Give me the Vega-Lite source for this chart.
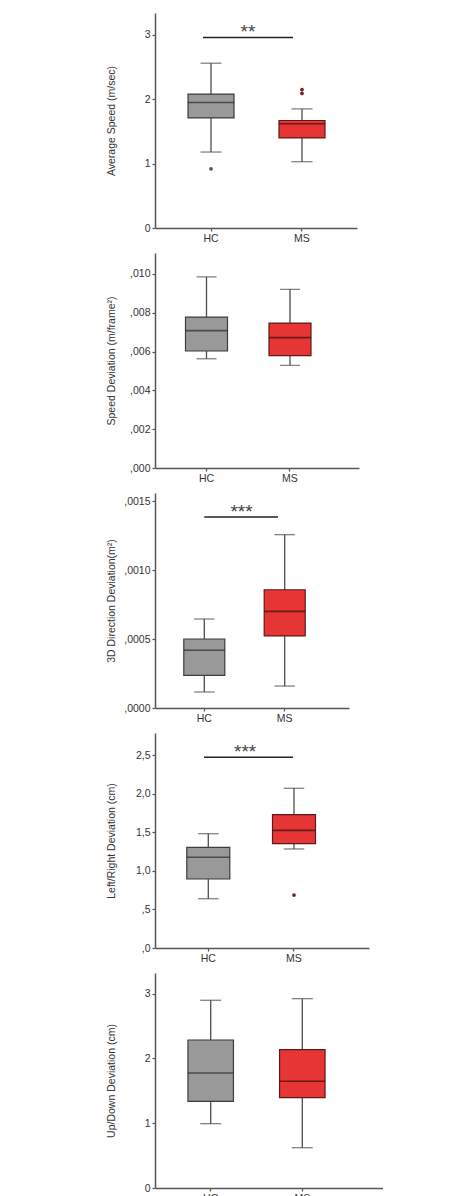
{
  "$schema": "https://vega.github.io/schema/vega-lite/v6.json",
  "padding": {"top": 13, "left": 106, "right": 0, "bottom": 0},
  "spacing": 9,
  "config": {
    "view": {"stroke": null},
    "font": "Liberation Sans",
    "axis": {
      "domainColor": "#555555", "domainWidth": 1.5, "tickColor": "#555555", "tickWidth": 1.2, "tickSize": 3,
      "labelFont": "Liberation Sans", "labelFontSize": 10.5, "labelColor": "#333333", "labelPadding": 2,
      "titleFont": "Liberation Sans", "titleFontSize": 10.5, "titleFontWeight": "normal", "titleColor": "#333333",
      "grid": false
    }
  },
  "vconcat": [
    {
      "width": 202, "height": 215,
      "data": {"values": [
        {"group": "HC", "lower": 1.18, "q1": 1.71, "median": 1.95, "q3": 2.08, "upper": 2.56},
        {"group": "MS", "lower": 1.03, "q1": 1.40, "median": 1.62, "q3": 1.67, "upper": 1.85}
      ]},
      "encoding": {"x": {"field": "group", "type": "nominal", "scale": {"type": "band", "paddingInner": 0, "paddingOuter": 0.11, "align": 0.525}, "axis": {"title": null, "labelAngle": 0}}},
      "layer": [
        {"mark": {"type": "rule", "color": "#4d4d4d", "strokeWidth": 1.3},
         "encoding": {"y": {"field": "lower", "type": "quantitative", "scale": {"domain": [0, 3.34], "nice": false}, "axis": {"title": "Average Speed (m/sec)", "values": [0, 1, 2, 3], "format": "d", "titleX": -44, "titleBaseline": "middle"}}, "y2": {"field": "upper"}}},
        {"mark": {"type": "tick", "color": "#4d4d4d", "size": 21, "thickness": 1.3}, "encoding": {"y": {"field": "upper", "type": "quantitative"}}},
        {"mark": {"type": "tick", "color": "#4d4d4d", "size": 21, "thickness": 1.3}, "encoding": {"y": {"field": "lower", "type": "quantitative"}}},
        {"mark": {"type": "bar", "size": 46, "strokeWidth": 1.2},
         "encoding": {"y": {"field": "q1", "type": "quantitative"}, "y2": {"field": "q3"},
           "fill": {"condition": {"test": "datum.group === 'HC'", "value": "#999999"}, "value": "#e53535"},
           "stroke": {"condition": {"test": "datum.group === 'HC'", "value": "#3d3d3d"}, "value": "#5c1a1a"}}},
        {"mark": {"type": "tick", "size": 46, "thickness": 1.6},
         "encoding": {"y": {"field": "median", "type": "quantitative"}, "color": {"condition": {"test": "datum.group === 'HC'", "value": "#2a2a2a"}, "value": "#3d0f0f"}}},
        {"data": {"values": [{"group": "HC", "value": 0.92}, {"group": "MS", "value": 2.15}, {"group": "MS", "value": 2.09}]},
         "mark": {"type": "point", "filled": true, "size": 14, "opacity": 1},
         "encoding": {"y": {"field": "value", "type": "quantitative"}, "color": {"condition": {"test": "datum.group === 'HC'", "value": "#555555"}, "value": "#7b1f2a"}}},
        {"data": {"values": [{"from": "HC", "to": "MS", "y": 2.96, "label": "**"}]},
         "layer": [
           {"mark": {"type": "rule", "color": "#222222", "strokeWidth": 1.5, "xOffset": -8, "x2Offset": -9},
            "encoding": {"x": {"field": "from", "type": "nominal"}, "x2": {"field": "to"}, "y": {"field": "y", "type": "quantitative"}}},
           {"mark": {"type": "text", "fontSize": 19, "color": "#444444", "baseline": "alphabetic", "dx": -8.5, "dy": 1},
            "encoding": {"x": {"field": "from", "type": "nominal", "bandPosition": 1}, "y": {"field": "y", "type": "quantitative"}, "text": {"field": "label"}}}
         ]}
      ]
    },
    {
      "width": 204, "height": 215,
      "data": {"values": [
        {"group": "HC", "lower": 0.00563, "q1": 0.00603, "median": 0.00708, "q3": 0.00778, "upper": 0.00985},
        {"group": "MS", "lower": 0.00529, "q1": 0.00579, "median": 0.00672, "q3": 0.00747, "upper": 0.00921}
      ]},
      "encoding": {"x": {"field": "group", "type": "nominal", "scale": {"type": "band", "paddingInner": 0, "paddingOuter": 0.2216, "align": 0.2635}, "axis": {"title": null, "labelAngle": 0}}},
      "layer": [
        {"mark": {"type": "rule", "color": "#4d4d4d", "strokeWidth": 1.3},
         "encoding": {"y": {"field": "lower", "type": "quantitative", "scale": {"domain": [0, 0.01108], "nice": false}, "axis": {"title": "Speed Deviation (m/frame²)", "values": [0, 0.002, 0.004, 0.006, 0.008, 0.01], "labelExpr": "',' + split(format(datum.value, '.3f'), '.')[1]", "titleX": -44, "titleBaseline": "middle"}}, "y2": {"field": "upper"}}},
        {"mark": {"type": "tick", "color": "#4d4d4d", "size": 20, "thickness": 1.3}, "encoding": {"y": {"field": "upper", "type": "quantitative"}}},
        {"mark": {"type": "tick", "color": "#4d4d4d", "size": 20, "thickness": 1.3}, "encoding": {"y": {"field": "lower", "type": "quantitative"}}},
        {"mark": {"type": "bar", "size": 42, "strokeWidth": 1.2},
         "encoding": {"y": {"field": "q1", "type": "quantitative"}, "y2": {"field": "q3"},
           "fill": {"condition": {"test": "datum.group === 'HC'", "value": "#999999"}, "value": "#e53535"},
           "stroke": {"condition": {"test": "datum.group === 'HC'", "value": "#3d3d3d"}, "value": "#5c1a1a"}}},
        {"mark": {"type": "tick", "size": 42, "thickness": 1.6},
         "encoding": {"y": {"field": "median", "type": "quantitative"}, "color": {"condition": {"test": "datum.group === 'HC'", "value": "#2a2a2a"}, "value": "#3d0f0f"}}}
      ]
    },
    {
      "width": 194, "height": 215,
      "data": {"values": [
        {"group": "HC", "lower": 0.000116, "q1": 0.000237, "median": 0.000418, "q3": 0.0005, "upper": 0.000645},
        {"group": "MS", "lower": 0.000159, "q1": 0.000522, "median": 0.0007, "q3": 0.000857, "upper": 0.001256}
      ]},
      "encoding": {"x": {"field": "group", "type": "nominal", "scale": {"type": "band", "paddingInner": 0, "paddingOuter": 0.2065, "align": 0.274}, "axis": {"title": null, "labelAngle": 0}}},
      "layer": [
        {"mark": {"type": "rule", "color": "#4d4d4d", "strokeWidth": 1.3},
         "encoding": {"y": {"field": "lower", "type": "quantitative", "scale": {"domain": [0, 0.001558], "nice": false}, "axis": {"title": "3D Direction Deviation(m²)", "values": [0, 0.0005, 0.001, 0.0015], "labelExpr": "',' + split(format(datum.value, '.4f'), '.')[1]", "titleX": -44, "titleBaseline": "middle"}}, "y2": {"field": "upper"}}},
        {"mark": {"type": "tick", "color": "#4d4d4d", "size": 20.5, "thickness": 1.3}, "encoding": {"y": {"field": "upper", "type": "quantitative"}}},
        {"mark": {"type": "tick", "color": "#4d4d4d", "size": 20.5, "thickness": 1.3}, "encoding": {"y": {"field": "lower", "type": "quantitative"}}},
        {"mark": {"type": "bar", "size": 41, "strokeWidth": 1.2},
         "encoding": {"y": {"field": "q1", "type": "quantitative"}, "y2": {"field": "q3"},
           "fill": {"condition": {"test": "datum.group === 'HC'", "value": "#999999"}, "value": "#e53535"},
           "stroke": {"condition": {"test": "datum.group === 'HC'", "value": "#3d3d3d"}, "value": "#5c1a1a"}}},
        {"mark": {"type": "tick", "size": 41, "thickness": 1.6},
         "encoding": {"y": {"field": "median", "type": "quantitative"}, "color": {"condition": {"test": "datum.group === 'HC'", "value": "#2a2a2a"}, "value": "#3d0f0f"}}},
        {"data": {"values": [{"from": "HC", "to": "MS", "y": 0.001384, "label": "***"}]},
         "layer": [
           {"mark": {"type": "rule", "color": "#222222", "strokeWidth": 1.5, "xOffset": 0, "x2Offset": -6.7},
            "encoding": {"x": {"field": "from", "type": "nominal"}, "x2": {"field": "to"}, "y": {"field": "y", "type": "quantitative"}}},
           {"mark": {"type": "text", "fontSize": 19, "color": "#444444", "baseline": "alphabetic", "dx": -3, "dy": 1},
            "encoding": {"x": {"field": "from", "type": "nominal", "bandPosition": 1}, "y": {"field": "y", "type": "quantitative"}, "text": {"field": "label"}}}
         ]}
      ]
    },
    {
      "width": 214, "height": 215,
      "data": {"values": [
        {"group": "HC", "lower": 0.64, "q1": 0.896, "median": 1.178, "q3": 1.308, "upper": 1.484},
        {"group": "MS", "lower": 1.286, "q1": 1.355, "median": 1.528, "q3": 1.731, "upper": 2.074}
      ]},
      "encoding": {"x": {"field": "group", "type": "nominal", "scale": {"type": "band", "paddingInner": 0, "paddingOuter": 0.2485, "align": 0.245}, "axis": {"title": null, "labelAngle": 0}}},
      "layer": [
        {"mark": {"type": "rule", "color": "#4d4d4d", "strokeWidth": 1.3},
         "encoding": {"y": {"field": "lower", "type": "quantitative", "scale": {"domain": [0, 2.792], "nice": false}, "axis": {"title": "Left/Right Deviation (cm)", "values": [0, 0.5, 1, 1.5, 2, 2.5], "labelExpr": "datum.value < 1 ? ',' + split(format(datum.value, '.1f'), '.')[1] : replace(format(datum.value, '.1f'), '.', ',')", "titleX": -44, "titleBaseline": "middle"}}, "y2": {"field": "upper"}}},
        {"mark": {"type": "tick", "color": "#4d4d4d", "size": 20.5, "thickness": 1.3}, "encoding": {"y": {"field": "upper", "type": "quantitative"}}},
        {"mark": {"type": "tick", "color": "#4d4d4d", "size": 20.5, "thickness": 1.3}, "encoding": {"y": {"field": "lower", "type": "quantitative"}}},
        {"mark": {"type": "bar", "size": 43, "strokeWidth": 1.2},
         "encoding": {"y": {"field": "q1", "type": "quantitative"}, "y2": {"field": "q3"},
           "fill": {"condition": {"test": "datum.group === 'HC'", "value": "#999999"}, "value": "#e53535"},
           "stroke": {"condition": {"test": "datum.group === 'HC'", "value": "#3d3d3d"}, "value": "#5c1a1a"}}},
        {"mark": {"type": "tick", "size": 43, "thickness": 1.6},
         "encoding": {"y": {"field": "median", "type": "quantitative"}, "color": {"condition": {"test": "datum.group === 'HC'", "value": "#2a2a2a"}, "value": "#3d0f0f"}}},
        {"data": {"values": [{"group": "MS", "value": 0.688}]},
         "mark": {"type": "point", "filled": true, "size": 14, "opacity": 1},
         "encoding": {"y": {"field": "value", "type": "quantitative"}, "color": {"value": "#7b1f2a"}}},
        {"data": {"values": [{"from": "HC", "to": "MS", "y": 2.476, "label": "***"}]},
         "layer": [
           {"mark": {"type": "rule", "color": "#222222", "strokeWidth": 1.5, "xOffset": -4.3, "x2Offset": -1},
            "encoding": {"x": {"field": "from", "type": "nominal"}, "x2": {"field": "to"}, "y": {"field": "y", "type": "quantitative"}}},
           {"mark": {"type": "text", "fontSize": 19, "color": "#444444", "baseline": "alphabetic", "dx": -6, "dy": 1},
            "encoding": {"x": {"field": "from", "type": "nominal", "bandPosition": 1}, "y": {"field": "y", "type": "quantitative"}, "text": {"field": "label"}}}
         ]}
      ]
    },
    {
      "width": 228, "height": 215,
      "data": {"values": [
        {"group": "HC", "lower": 0.993, "q1": 1.338, "median": 1.775, "q3": 2.285, "upper": 2.898},
        {"group": "MS", "lower": 0.622, "q1": 1.394, "median": 1.647, "q3": 2.135, "upper": 2.923}
      ]},
      "encoding": {"x": {"field": "group", "type": "nominal", "scale": {"type": "band", "paddingInner": 0, "paddingOuter": 0.2445, "align": 0.221}, "axis": {"title": null, "labelAngle": 0}}},
      "layer": [
        {"mark": {"type": "rule", "color": "#4d4d4d", "strokeWidth": 1.3},
         "encoding": {"y": {"field": "lower", "type": "quantitative", "scale": {"domain": [0, 3.319], "nice": false}, "axis": {"title": "Up/Down Deviation (cm)", "values": [0, 1, 2, 3], "format": "d", "titleX": -44, "titleBaseline": "middle"}}, "y2": {"field": "upper"}}},
        {"mark": {"type": "tick", "color": "#4d4d4d", "size": 21, "thickness": 1.3}, "encoding": {"y": {"field": "upper", "type": "quantitative"}}},
        {"mark": {"type": "tick", "color": "#4d4d4d", "size": 21, "thickness": 1.3}, "encoding": {"y": {"field": "lower", "type": "quantitative"}}},
        {"mark": {"type": "bar", "size": 45.5, "strokeWidth": 1.2},
         "encoding": {"y": {"field": "q1", "type": "quantitative"}, "y2": {"field": "q3"},
           "fill": {"condition": {"test": "datum.group === 'HC'", "value": "#999999"}, "value": "#e53535"},
           "stroke": {"condition": {"test": "datum.group === 'HC'", "value": "#3d3d3d"}, "value": "#5c1a1a"}}},
        {"mark": {"type": "tick", "size": 45.5, "thickness": 1.6},
         "encoding": {"y": {"field": "median", "type": "quantitative"}, "color": {"condition": {"test": "datum.group === 'HC'", "value": "#2a2a2a"}, "value": "#3d0f0f"}}}
      ]
    }
  ]
}
